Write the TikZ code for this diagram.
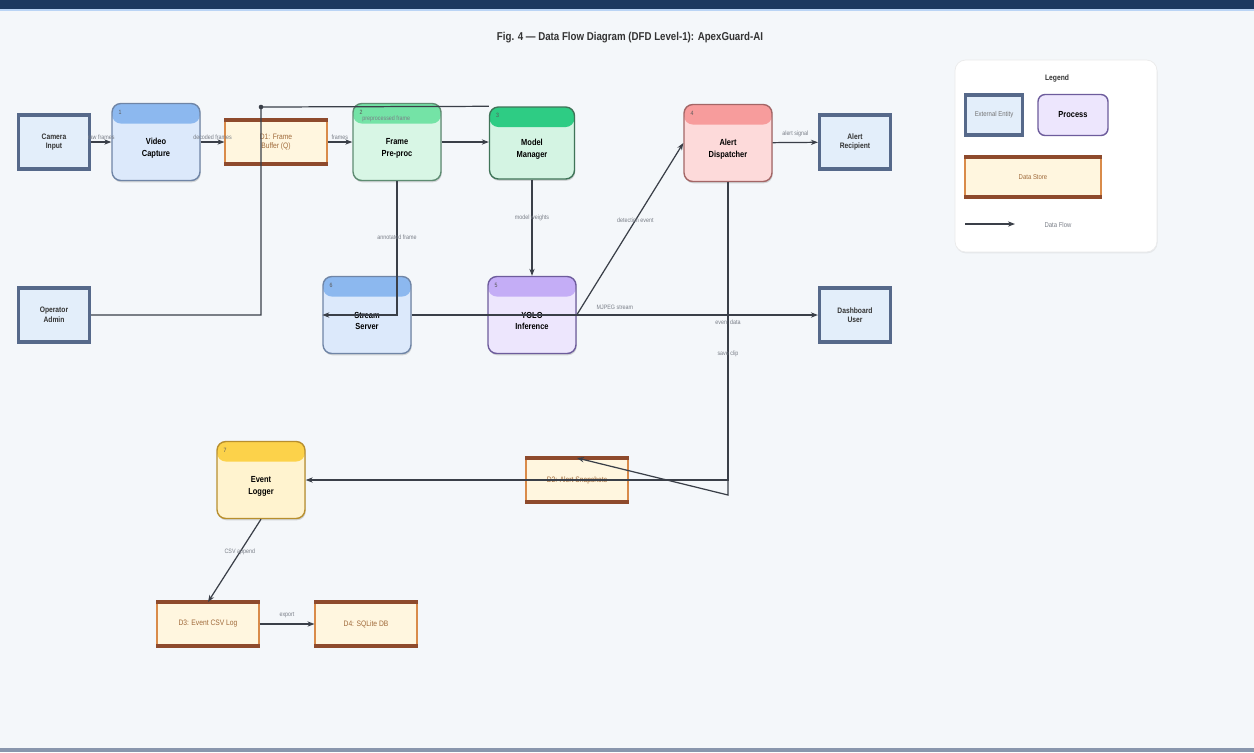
\documentclass[tikz,border=0pt]{standalone}
\usepackage{fontspec}
\setmainfont{Liberation Sans}[FakeStretch=0.85]
\usepackage{tikz}
\usetikzlibrary{positioning,shadows,arrows.meta}

\definecolor{bgcol}{HTML}{F4F7FA}
\definecolor{navy}{HTML}{1D3960}
\definecolor{extline}{HTML}{56698A}
\definecolor{extfill}{HTML}{E3EEFA}
\definecolor{flowcol}{HTML}{3A3F48}
\definecolor{lblcol}{HTML}{7A7F88}
\definecolor{storefill}{HTML}{FFF6DF}
\definecolor{storeside}{HTML}{D98B4A}
\definecolor{storeedge}{HTML}{8E4A2C}
\definecolor{storetext}{HTML}{A06A3A}
% process colours
\definecolor{bluefill}{HTML}{DCE9FB}
\definecolor{bluehdr}{HTML}{8CB8EF}
\definecolor{blueline}{HTML}{6F85A6}
\definecolor{greenfill}{HTML}{D8F6E5}
\definecolor{greenhdr}{HTML}{74E3A6}
\definecolor{greenline}{HTML}{5E8C72}
\definecolor{mintfill}{HTML}{D4F4E3}
\definecolor{minthdr}{HTML}{2ECC84}
\definecolor{mintline}{HTML}{3F7458}
\definecolor{redfill}{HTML}{FDDADA}
\definecolor{redhdr}{HTML}{F79C9C}
\definecolor{redline}{HTML}{A36666}
\definecolor{purpfill}{HTML}{EDE6FD}
\definecolor{purphdr}{HTML}{C4ADF6}
\definecolor{purpline}{HTML}{6D5C9C}
\definecolor{yelfill}{HTML}{FFF3CF}
\definecolor{yelhdr}{HTML}{FCD24A}
\definecolor{yelline}{HTML}{B88F2E}

\tikzset{
  ext/.style={draw=extline, line width=1.8pt, fill=extfill, minimum width=1.42cm,
    minimum height=1.08cm, align=center, font=\fontsize{4.5}{5.5}\selectfont\bfseries,
    text=black!80, drop shadow={opacity=.25, shadow xshift=.3pt, shadow yshift=-.8pt}},
  proc/.style n args={4}{draw=#3, line width=.8pt, fill=#1, rounded corners=5pt,
    minimum width=1.76cm, minimum height=1.54cm, align=center, text height=17pt,
    font=\fontsize{5}{6.5}\selectfont\bfseries,
    drop shadow={opacity=.3, shadow xshift=.4pt, shadow yshift=-1pt},
    path picture={
      \fill[#2] (path picture bounding box.north west) rectangle ([yshift=-0.4cm]path picture bounding box.north east);
    },
    label={[anchor=north west, inner sep=0pt, xshift=4pt, yshift=-4pt,
      font=\fontsize{3.5}{4}\selectfont, text=black!65]north west:#4}},
  store/.style={draw=storeside, line width=.6pt, fill=storefill, minimum width=2.04cm,
    minimum height=0.86cm, align=center, font=\fontsize{4.5}{5.5}\selectfont, text=storetext},
  storeedges/.style={draw=storeedge, line width=1.8pt},
  flow/.style={-{Stealth[length=4pt,width=3pt]}, draw=flowcol, line width=.7pt},
  flowlbl/.style={font=\fontsize{3.6}{4}\selectfont, text=lblcol, inner sep=1pt}
}

\begin{document}
\begin{tikzpicture}[x=0.02cm, y=-0.02cm]
\useasboundingbox (0,0) rectangle (1254,752);
% background and bands
\fill[bgcol] (0,0) rectangle (1254,752);
\fill[navy] (0,0) rectangle (1254,9);
\fill[bluehdr!60] (0,9) rectangle (1254,11);
\fill[extline!70] (0,748) rectangle (1254,752);

\node[font=\fontsize{6.5}{8}\selectfont\bfseries, text=black!80] (title) at (630,38)
  {Fig. 4 — Data Flow Diagram (DFD Level-1): ApexGuard-AI};

% entities, processes, stores
\node[ext] (cam) at (54,142) {Camera\\Input};
\node[proc={bluefill}{bluehdr}{blueline}{1}] (cap) at (156,142) {Video\\Capture};
\node[store] (dOne) at (276,142) {D1: Frame\\Buffer (Q)};
\node[proc={greenfill}{greenhdr}{greenline}{2}] (pre) at (397,142) {Frame\\Pre-proc};
\node[proc={mintfill}{minthdr}{mintline}{3}, minimum width=1.7cm, minimum height=1.44cm] (mgr) at (532,143) {Model\\Manager};
\node[proc={redfill}{redhdr}{redline}{4}] (alert) at (728,143) {Alert\\Dispatcher};
\node[ext] (recip) at (855,142) {Alert\\Recipient};
\node[ext] (admin) at (54,315) {Operator\\Admin};
\node[proc={bluefill}{bluehdr}{blueline}{6}] (stream) at (367,315) {Stream\\Server};
\node[proc={purpfill}{purphdr}{purpline}{5}] (yolo) at (532,315) {YOLO\\Inference};
\node[ext] (dash) at (855,315) {Dashboard\\User};
\node[proc={yelfill}{yelhdr}{yelline}{7}] (logger) at (261,480) {Event\\Logger};
\node[store] (dTwo) at (577,480) {D2: Alert Snapshots};
\node[store] (dThree) at (208,624) {D3: Event CSV Log};
\node[store] (dFour) at (366,624) {D4: SQLite DB};

% legend
\node[draw=black!8, fill=white, rounded corners=6pt, minimum width=4.04cm, minimum height=3.84cm,
  drop shadow={opacity=.12, shadow xshift=.3pt, shadow yshift=-.8pt}] (legendBox) at (1056,156) {};
\node[font=\fontsize{4.5}{5}\selectfont\bfseries, text=black!80] (legendTitle) at (1057,78) {Legend};
\node[ext, minimum width=1.14cm, minimum height=0.8cm, font=\fontsize{4}{5}\selectfont, text=black!55] (lgExt) at (994,115) {External Entity};
\node[draw=purpline, fill=purpfill, rounded corners=4pt, line width=.8pt, minimum width=1.4cm,
  minimum height=0.82cm, font=\fontsize{5}{6}\selectfont\bfseries] (lgProc) at (1073,115) {Process};
\node[store, minimum width=2.72cm, minimum height=.78cm, font=\fontsize{4}{5}\selectfont] (lgStore) at (1033,177) {Data Store};
\coordinate (lgFrom) at (965,224);
\coordinate (lgTo) at (1015,224);
\node[flowlbl, font=\fontsize{4}{5}\selectfont] (lgFlowTxt) at (1058,225) {Data Flow};

% store top and bottom edges
\foreach \s in {dOne,dTwo,dThree,dFour,lgStore} {
  \draw[storeedges] (\s.north west) -- (\s.north east);
  \draw[storeedges] (\s.south west) -- (\s.south east);
}

% flows
\coordinate (adminUp) at (261,107);
\coordinate (alertDown) at (728,480);
\coordinate (alertTurn) at (728,495);
\draw[flow] (cam) -- (cap) node[midway, above, flowlbl] {raw frames};
\draw[flow] (cap) -- (dOne) node[midway, above, flowlbl] {decoded frames};
\draw[flow] (dOne) -- (pre) node[midway, above, flowlbl] {frames};
\draw[flow] (pre.east) -- (pre.east -| mgr.west);
\draw[draw=flowcol, line width=.7pt] (admin.east) -| (adminUp) -- (mgr.north west) node[pos=.55, below=4pt, flowlbl] {preprocessed frame};
\fill[flowcol] (adminUp) circle (1.3pt);
\draw[flow] (pre.south) |- (stream.west) node[pos=.21, flowlbl] {annotated frame};
\draw[flow] (mgr) -- (yolo) node[pos=.4, flowlbl] {model weights};
\draw[flow] (yolo.east) -- (alert.west) node[pos=.55, flowlbl] {detection event};
\draw[flow] (stream.east) -- (dash.west) node[midway, above=2pt, flowlbl] {MJPEG stream};
\draw[flow] (alert) -- (recip) node[midway, above=2pt, flowlbl] {alert signal};
\draw[flow] (alert.south) -- node[pos=.47, flowlbl] {event data} (alertDown) -- (logger.east);
\draw[flow] (alert.south) -- node[pos=.55, flowlbl] {save clip} (alertTurn) -- (dTwo.north);
\draw[flow] (logger.south) -- (dThree.north) node[pos=.4, flowlbl] {CSV append};
\draw[flow] (dThree) -- (dFour) node[midway, above=2pt, flowlbl] {export};
\draw[flow] (lgFrom) -- (lgTo);
\end{tikzpicture}
\end{document}
